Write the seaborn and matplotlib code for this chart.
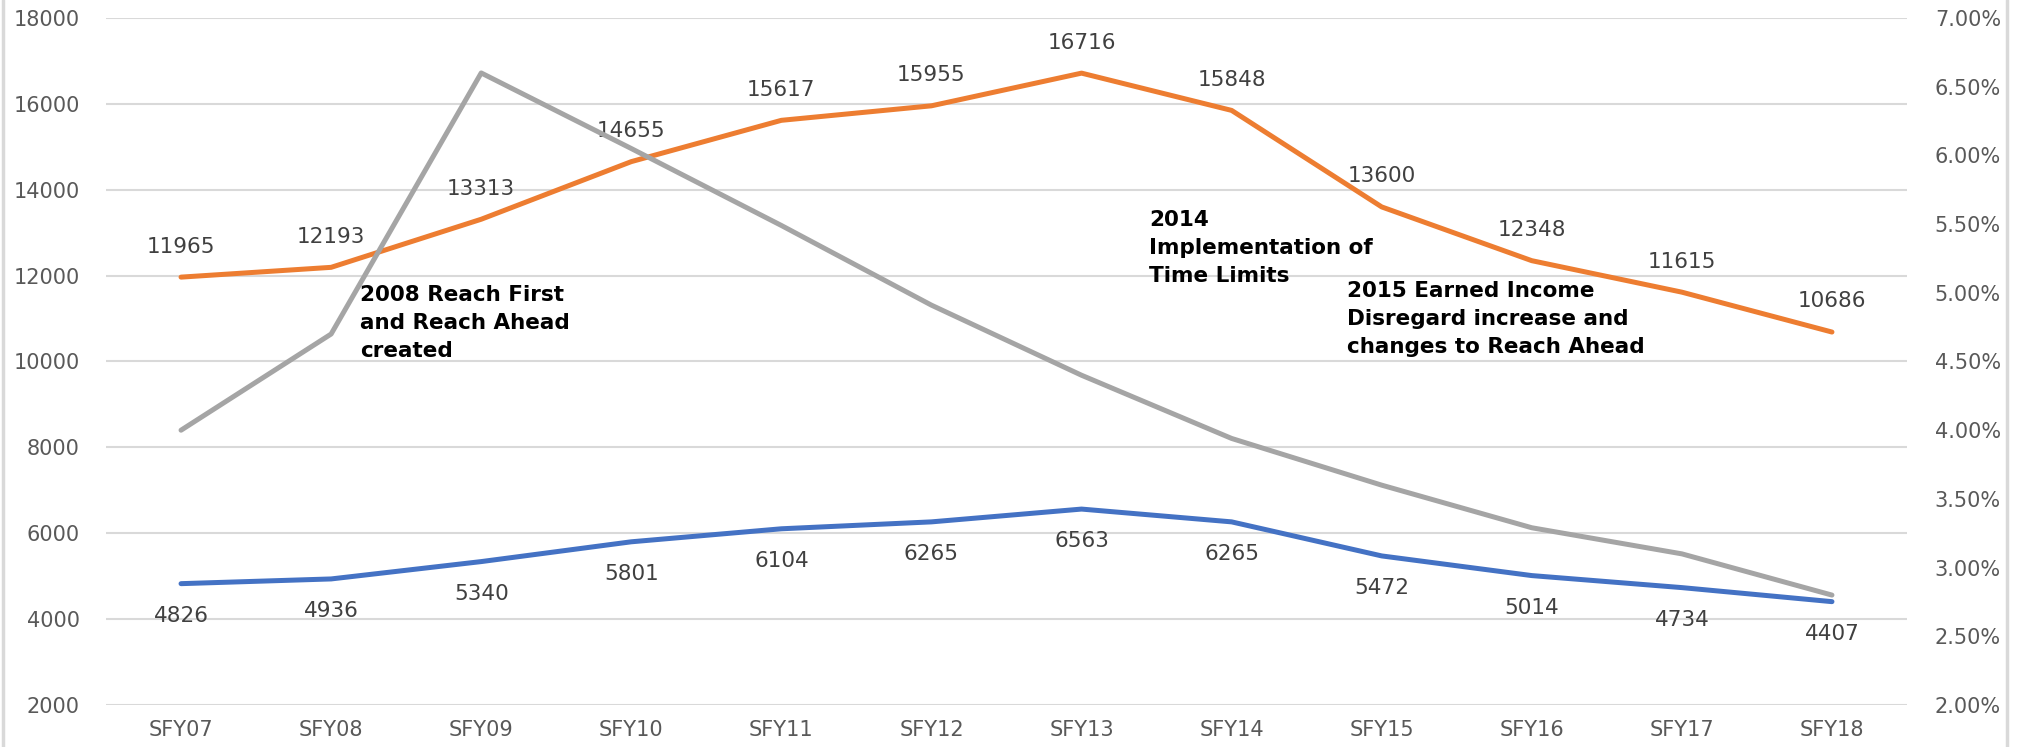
import numpy as np
import pandas as pd
import matplotlib
matplotlib.use("Agg")
import matplotlib.pyplot as plt
import seaborn as sns
from matplotlib.lines import Line2D
from matplotlib.ticker import FuncFormatter

# Data
years = ['SFY07', 'SFY08', 'SFY09', 'SFY10', 'SFY11', 'SFY12',
         'SFY13', 'SFY14', 'SFY15', 'SFY16', 'SFY17', 'SFY18']
orange_vals = [11965, 12193, 13313, 14655, 15617, 15955, 16716, 15848, 13600, 12348, 11615, 10686]
blue_vals = [4826, 4936, 5340, 5801, 6104, 6265, 6563, 6265, 5472, 5014, 4734, 4407]
gray_pct = [4.00, 4.70, 6.60, 6.05, 5.49, 4.91, 4.40, 3.94, 3.60, 3.29, 3.10, 2.80]

notes = ["2008 Reach First\nand Reach Ahead\ncreated",
         "2014\nImplementation of\nTime Limits",
         "2015 Earned Income\nDisregard increase and\nchanges to Reach Ahead"]
note_pos = [(1.19, 10900), (6.45, 12650), (7.77, 10990)]

df = pd.DataFrame({'pos': np.arange(len(years)), 'year': years,
                   'orange': orange_vals, 'blue': blue_vals, 'gray': gray_pct})

sns.set_style("white")
plt.rcParams['font.family'] = ['DejaVu Sans']

fig = plt.figure(figsize=(20.19, 7.47), dpi=100)
ax = fig.add_axes([106 / 2019, 1 - 705 / 747, (1907 - 106) / 2019, (705 - 18) / 747])
ax2 = ax.twinx()

orange = '#ED7D31'
blue = '#4472C4'
gray = '#A5A5A5'
txt = '#595959'

sns.lineplot(data=df, x='pos', y='orange', ax=ax, color=orange, linewidth=3.6, sort=False)
sns.lineplot(data=df, x='pos', y='blue', ax=ax, color=blue, linewidth=3.6, sort=False)
sns.lineplot(data=df, x='pos', y='gray', ax=ax2, color=gray, linewidth=3.6, sort=False)

ax.set_xlim(-0.5, len(years) - 0.5)
ax.set_ylim(2000, 18000)
ax.set_yticks(range(2000, 18001, 2000))
ax2.set_ylim(2.0, 7.0)
ax2.set_yticks(np.arange(2.0, 7.01, 0.5))
ax2.yaxis.set_major_formatter(FuncFormatter(lambda v, p: f"{v:.2f}%"))

ax.set_xticks(df['pos'])
ax.set_xticklabels(years)
ax.grid(axis='y', color='#D9D9D9', linewidth=1.5)
ax.grid(axis='x', visible=False)
ax2.grid(False)
ax.set_xlabel('')
ax.set_ylabel('')
ax2.set_ylabel('')

for a in (ax, ax2):
    for s in a.spines.values():
        s.set_visible(False)
ax.tick_params(axis='y', length=0, pad=19, labelsize=15, labelcolor=txt)
ax.tick_params(axis='x', length=0, pad=11, labelsize=15, labelcolor=txt)
ax2.tick_params(axis='y', length=0, pad=20, labelsize=15, labelcolor=txt)

# data labels
for x, v in zip(df['pos'], orange_vals):
    ax.annotate(str(v), (x, v), xytext=(0, 22), textcoords='offset points',
                ha='center', va='center', fontsize=15.5, color='#404040')
for x, v in zip(df['pos'], blue_vals):
    ax.annotate(str(v), (x, v), xytext=(0, -23), textcoords='offset points',
                ha='center', va='center', fontsize=15.5, color='#404040')

# event notes
for (nx, ny), t in zip(note_pos, notes):
    ax.text(nx, ny, t, ha='left', va='center', fontsize=15.5, fontweight='bold',
            color='black', linespacing=1.5, zorder=5)
ax.set_zorder(ax2.get_zorder() - 1)
ax.patch.set_visible(False)
ax2.patch.set_visible(False)

# chart frame edges
fig.add_artist(Line2D([3 / 2019, 3 / 2019], [0, 1], color='#D9D9D9', linewidth=2.5))
fig.add_artist(Line2D([2007 / 2019, 2007 / 2019], [0, 1], color='#D9D9D9', linewidth=2.5))

fig.savefig('out.png', dpi=100, facecolor='white')
